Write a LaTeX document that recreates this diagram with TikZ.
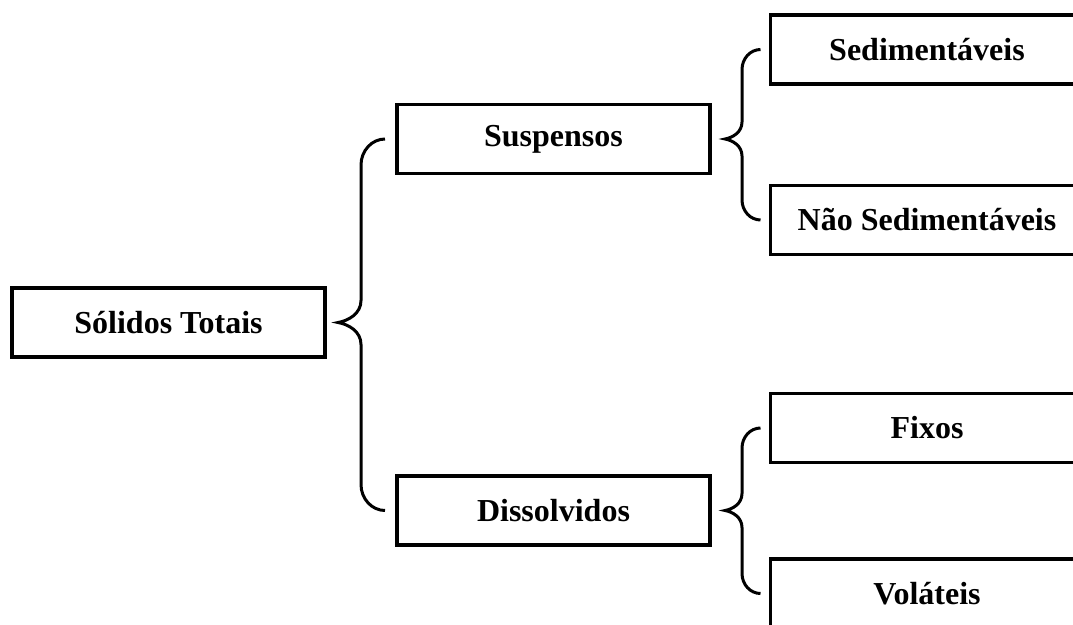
\documentclass[tikz,border=0pt]{standalone}
\usepackage{fontspec}
\setmainfont{Liberation Serif}
\usetikzlibrary{calc}
\tikzset{
  box/.style={draw, line width=3.8pt, minimum width=313pt, minimum height=69pt,
    inner sep=0pt, outer sep=0pt, font=\fontsize{32}{38}\selectfont\bfseries},
  bracestyle/.style={line width=3pt}
}
% #1 parent, #2 top child, #3 bottom child, #4 tip gap, #5 spine offset,
% #6 end gap, #7 end radius, #8 tip radius
\newcommand\brc[8]{%
  \draw[bracestyle] let \p1=($(#1.east)+(#4,0)$), \p2=($(#2.west)-(#6,0)$),
      \p3=($(#3.west)-(#6,0)$) in
    (\x2,\y2) .. controls ({\x2-0.55*(\x2-\x1-#5pt)},\y2) and ({\x1+#5pt},{\y2-0.45*#7pt}) ..
    ({\x1+#5pt},{\y2-#7pt}) -- ({\x1+#5pt},{\y1+#8pt})
    .. controls ({\x1+#5pt},{\y1+0.4*#8pt}) and ({\x1+0.45*#5pt},{\y1+0.08*#8pt}) .. (\x1,\y1)
    .. controls ({\x1+0.45*#5pt},{\y1-0.08*#8pt}) and ({\x1+#5pt},{\y1-0.4*#8pt}) ..
    ({\x1+#5pt},{\y1-#8pt}) -- ({\x1+#5pt},{\y3+#7pt})
    .. controls ({\x1+#5pt},{\y3+0.45*#7pt}) and ({\x3-0.55*(\x3-\x1-#5pt)},\y3) .. (\x3,\y3);
}
\begin{document}
\begin{tikzpicture}[x=1pt,y=-1pt]
  \useasboundingbox (0,0) rectangle (1073,624);
  \clip (0,0) rectangle (1073,624);
  \node[box] (st) at (168.5,322.5) {Sólidos Totais};
  \node[box] (su) at (553.5,139) {Suspensos};
  \node[box] (di) at (553.5,510.5) {Dissolvidos};
  \node[box] (se) at (927,49.5) {Sedimentáveis};
  \node[box] (ns) at (927,220) {Não Sedimentáveis};
  \node[box] (fi) at (927,428) {Fixos};
  \node[box] (vo) at (927,593.5) {Voláteis};
  \brc{st}{su}{di}{13}{23}{12}{26}{22}
  \brc{su}{se}{ns}{15}{17}{10}{20}{17}
  \brc{di}{fi}{vo}{15}{17}{10}{20}{17}
\end{tikzpicture}
\end{document}
